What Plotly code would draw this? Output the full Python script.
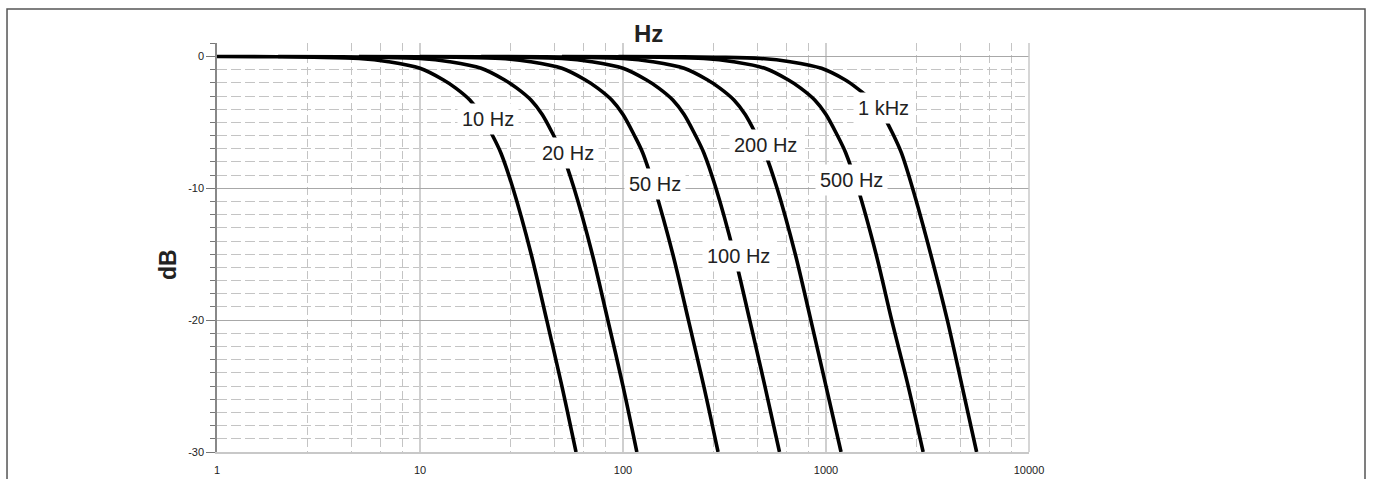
import plotly.graph_objects as go

# ---- data ----
curve_labels = ["10 Hz", "20 Hz", "50 Hz", "100 Hz", "200 Hz", "500 Hz", "1 kHz"]
gain_db = [0, -0.02, -0.06, -0.15, -0.4, -0.9, -1.77, -2.4, -3.3, -4.4, -5.9, -7.3, -10, -15, -20, -25, -30]
f_10 = [1, 2, 3, 5, 7, 10, 13, 15, 17.6, 20, 22.6, 25, 28.7, 35.3, 42.1, 50, 58.7]
f_20 = [2, 4, 6, 10, 14, 20, 26, 30, 35.2, 40, 45.2, 50, 57.4, 70.6, 84.2, 100, 117]
f_50 = [5, 10, 15, 25, 35, 50, 65, 75, 88, 100, 113, 125, 143, 176, 210, 250, 294]
f_100 = [10, 20, 30, 50, 70, 100, 130, 150, 176, 200, 226, 250, 287, 353, 421, 500, 590]
f_200 = [20, 40, 60, 100, 140, 200, 260, 300, 352, 400, 452, 500, 574, 706, 842, 1000, 1186]
f_500 = [50, 100, 150, 250, 350, 500, 650, 750, 880, 1000, 1130, 1250, 1435, 1765, 2107, 2540, 3010]
f_1k = [95, 190, 285, 475, 665, 950, 1240, 1420, 1670, 1900, 2140, 2350, 2670, 3280, 3960, 4680, 5520]
curve_freqs = [f_10, f_20, f_50, f_100, f_200, f_500, f_1k]

x_tick_vals = [1, 10, 100, 1000, 10000]
x_tick_text = ["1", "10", "100", "1000", "10000"]
y_tick_vals = [0, -10, -20, -30]
y_tick_text = ["0", "-10", "-20", "-30"]

# label placement (log10 x, dB)
label_pos = [(1.336, -4.72), (1.731, -7.32), (2.158, -9.65), (2.568, -15.16),
             (2.700, -6.69), (3.127, -9.40), (3.282, -3.91)]

FONT = "Liberation Sans, Arial, Helvetica, sans-serif"

fig = go.Figure()
for name, fr in zip(curve_labels, curve_freqs):
    fig.add_trace(go.Scatter(
        x=fr, y=gain_db, mode="lines", name=name,
        line=dict(color="black", width=3.6, shape="spline", smoothing=0.9),
        hoverinfo="skip", showlegend=False,
    ))

minor_x = [m * 10 ** d for d in range(4) for m in (2.8, 4.6, 6.4, 8.2)]

fig.update_xaxes(
    type="log", range=[0, 4], automargin=False,
    tickmode="array", tickvals=x_tick_vals, ticktext=x_tick_text,
    tickfont=dict(family=FONT, size=11, color="#222"),
    showgrid=True, gridcolor="#cfcfcf", gridwidth=1.5,
    ticks="outside", ticklen=7, tickcolor="rgba(0,0,0,0)",
    showline=True, linecolor="#c8c8c8", linewidth=1.5,
    mirror=False, zeroline=False,
    minor=dict(tickmode="array", tickvals=minor_x, showgrid=True,
               gridcolor="#c4c4c4", griddash="8px,4px", gridwidth=1, ticks=""),
)
fig.update_yaxes(
    range=[-30, 1.02], automargin=False,
    tickmode="array", tickvals=y_tick_vals, ticktext=y_tick_text,
    tickfont=dict(family=FONT, size=11, color="#222"),
    showgrid=True, gridcolor="#a8a8a8", gridwidth=1,
    ticks="outside", ticklen=9, tickcolor="#777", tickwidth=1,
    showline=True, linecolor="#888", linewidth=1.5,
    zeroline=False,
    minor=dict(dtick=1, showgrid=True, gridcolor="#c4c4c4", griddash="10px,4px",
               gridwidth=1, ticks="outside", ticklen=5, tickcolor="#777"),
)

# right edge line
fig.add_shape(type="line", xref="paper", yref="paper", x0=1, x1=1, y0=0, y1=1,
              line=dict(color="#c8c8c8", width=1.5))

for text, (lx, ly) in zip(curve_labels, label_pos):
    fig.add_annotation(x=lx, y=ly, xref="x", yref="y", text=text, showarrow=False,
                       font=dict(family=FONT, size=20, color="#222"),
                       bgcolor="white", borderpad=4)

fig.add_annotation(x=0.5308, y=1.0244, xref="paper", yref="paper", text="<b>Hz</b>",
                   showarrow=False, font=dict(family=FONT, size=24, color="#222"),
                   xanchor="center", yanchor="middle")
fig.add_annotation(x=-0.061, y=0.4584, xref="paper", yref="paper", text="<b>dB</b>",
                   showarrow=False, textangle=-90,
                   font=dict(family=FONT, size=23, color="#222"),
                   xanchor="center", yanchor="middle")

# outer frame
fig.add_shape(type="rect", xref="paper", yref="paper",
              x0=-0.2586, x1=1.4138, y0=-0.2, y1=1.0831,
              line=dict(color="#555", width=1.5), layer="below")

fig.update_layout(
    width=1375, height=479,
    margin=dict(l=217, r=346, t=43, b=27, autoexpand=False),
    paper_bgcolor="white", plot_bgcolor="white",
    showlegend=False,
)

fig.write_html("out.html", config={"displayModeBar": False},
               post_script="document.body.style.margin='0';")
